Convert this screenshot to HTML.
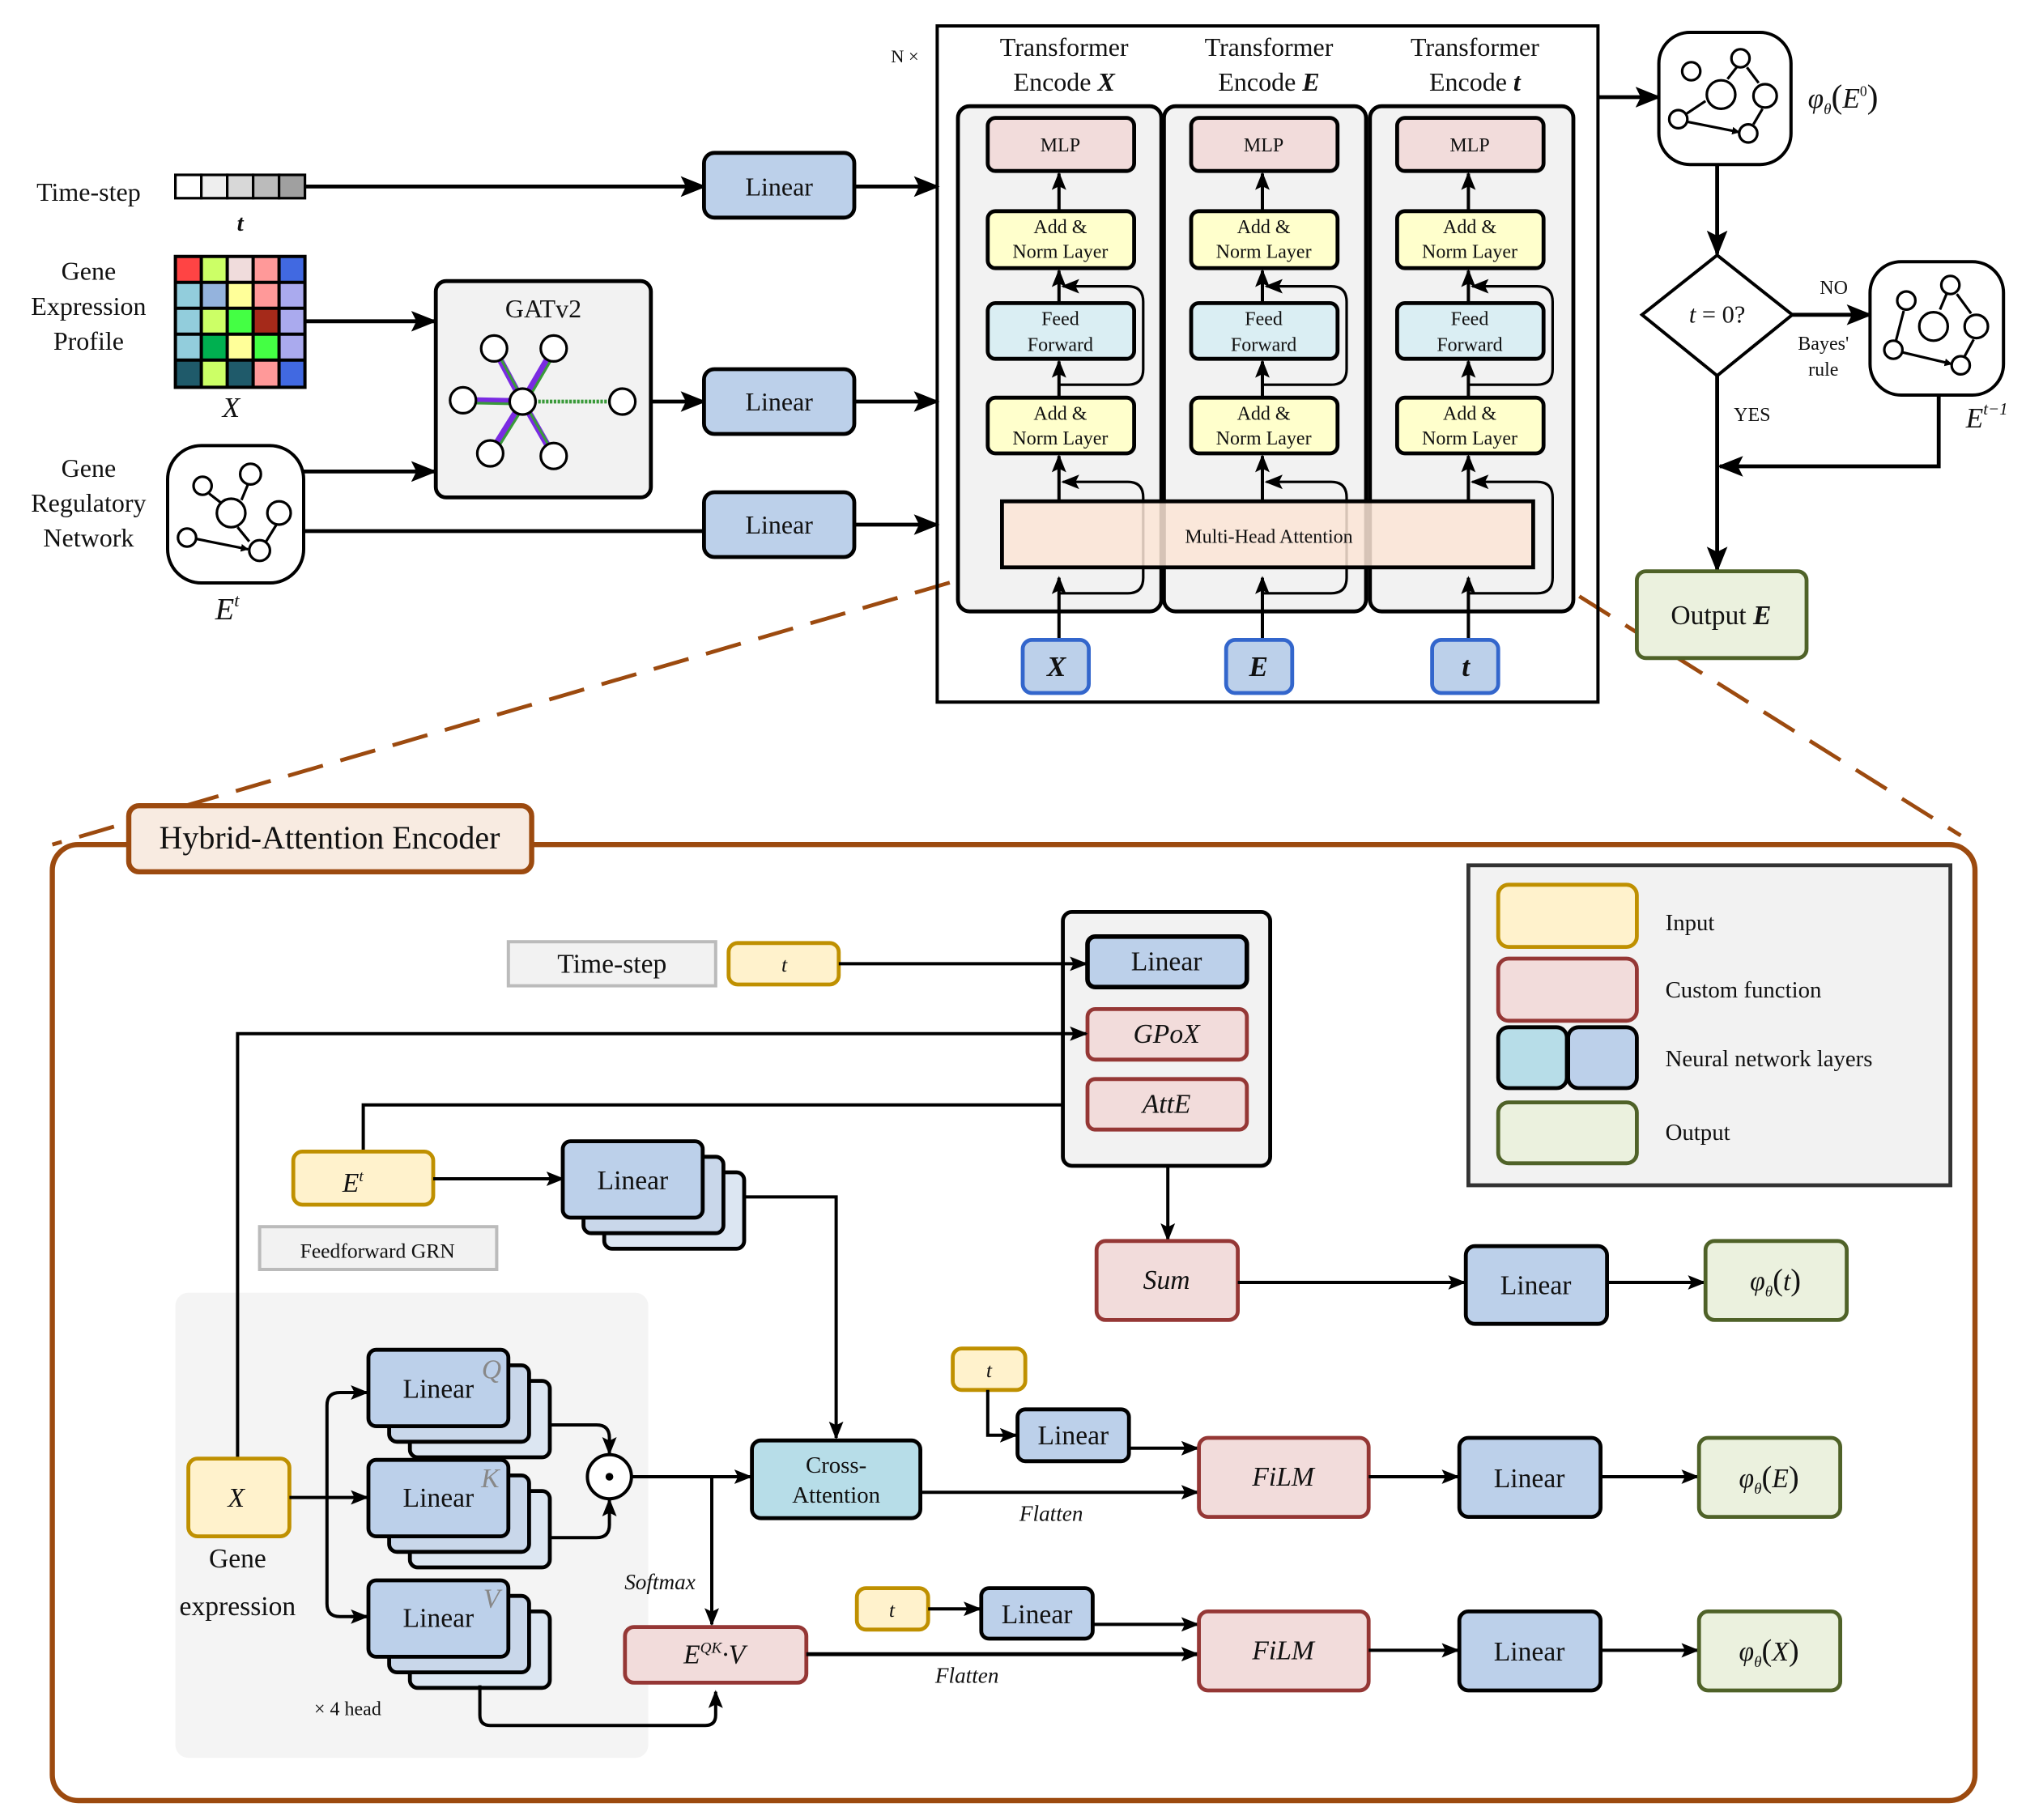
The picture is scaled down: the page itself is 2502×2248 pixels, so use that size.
<!DOCTYPE html>
<html><head><meta charset="utf-8"><style>
html,body{margin:0;padding:0;background:#fff}
svg{display:block}
text{font-family:"Liberation Serif",serif;fill:#111}
</style></head><body>
<svg width="2502" height="2248" viewBox="0 0 1563 1405" xmlns="http://www.w3.org/2000/svg">
<defs>
<marker id="a" viewBox="0 0 10 10" refX="9" refY="5" markerWidth="6" markerHeight="6" orient="auto" markerUnits="userSpaceOnUse"><path d="M0,0 L10,5 L0,10 z" fill="#000"/></marker>
<marker id="A" viewBox="0 0 10 10" refX="9" refY="5" markerWidth="20" markerHeight="20" orient="auto" markerUnits="userSpaceOnUse"><path d="M0,1 L10,5 L0,9 L2,5 z" fill="#000"/></marker>
<marker id="m" viewBox="0 0 10 10" refX="9" refY="5" markerWidth="14" markerHeight="14" orient="auto" markerUnits="userSpaceOnUse"><path d="M0,1 L10,5 L0,9 L2,5 z" fill="#000"/></marker>
</defs>
<g fill="none" stroke="#000" stroke-width="3">
<path d="M773,438 L40,652 M1183,438 L1513,645" stroke="#9c4a0f" stroke-width="3" stroke-dasharray="28,14"/>
<rect x="135" y="135" width="20" height="18" fill="#fff" stroke-width="2"/><rect x="155" y="135" width="20" height="18" fill="#eee" stroke-width="2"/><rect x="175" y="135" width="20" height="18" fill="#d8d8d8" stroke-width="2"/><rect x="195" y="135" width="20" height="18" fill="#bbb" stroke-width="2"/><rect x="215" y="135" width="20" height="18" fill="#a0a0a0" stroke-width="2"/>
<path d="M235,144 H543" marker-end="url(#A)"/>
<rect x="543" y="118" width="116" height="50" rx="8" fill="#bcd0ea"/>
<path d="M659,144 H723" marker-end="url(#A)"/>
<g stroke-width="0">
<rect x="135" y="198" width="20" height="20" fill="#ff4444"/><rect x="155" y="198" width="20" height="20" fill="#ccff66"/><rect x="175" y="198" width="20" height="20" fill="#f0dcdc"/><rect x="195" y="198" width="20" height="20" fill="#ff9999"/><rect x="215" y="198" width="20" height="20" fill="#4169e1"/>
<rect x="135" y="218" width="20" height="20" fill="#92cddc"/><rect x="155" y="218" width="20" height="20" fill="#94b3dd"/><rect x="175" y="218" width="20" height="20" fill="#ffff99"/><rect x="195" y="218" width="20" height="20" fill="#ff9999"/><rect x="215" y="218" width="20" height="20" fill="#aaaaee"/>
<rect x="135" y="238" width="20" height="20" fill="#92cddc"/><rect x="155" y="238" width="20" height="20" fill="#ccff66"/><rect x="175" y="238" width="20" height="20" fill="#44ff44"/><rect x="195" y="238" width="20" height="20" fill="#a52a1a"/><rect x="215" y="238" width="20" height="20" fill="#aaaaee"/>
<rect x="135" y="258" width="20" height="20" fill="#92cddc"/><rect x="155" y="258" width="20" height="20" fill="#00b050"/><rect x="175" y="258" width="20" height="20" fill="#ffff99"/><rect x="195" y="258" width="20" height="20" fill="#44ff44"/><rect x="215" y="258" width="20" height="20" fill="#aaaaee"/>
<rect x="135" y="278" width="20" height="21" fill="#1f5a6a"/><rect x="155" y="278" width="20" height="21" fill="#ccff66"/><rect x="175" y="278" width="20" height="21" fill="#1f5a6a"/><rect x="195" y="278" width="20" height="21" fill="#ff9999"/><rect x="215" y="278" width="20" height="21" fill="#4169e1"/>
</g>
<path d="M135,198 H235 V299 H135 Z M135,218 H235 M135,238 H235 M135,258 H235 M135,278 H235 M155,198 V299 M175,198 V299 M195,198 V299 M215,198 V299" stroke-width="2.5"/>
<path d="M235,248 H335" marker-end="url(#A)"/>
<rect x="336" y="217" width="166" height="167" rx="8" fill="#f2f2f2"/>
<g stroke-width="3">
<path d="M403,310 L381,269 M403,310 L427,269 M403,310 L357,309 M403,310 L378,350 M403,310 L427,352" stroke="#7a2be2" stroke-width="5"/>
<path d="M403,310 L381,269 M403,310 L427,269 M403,310 L357,309 M403,310 L378,350 M403,310 L427,352" stroke="#3a9a3a" stroke-width="2" transform="translate(2,2)"/>
<path d="M403,310 H480" stroke="#3a9a3a" stroke-width="3" stroke-dasharray="2,1"/>
</g>
<g fill="#fff" stroke-width="2">
<circle cx="381" cy="269" r="10"/><circle cx="427" cy="269" r="10"/><circle cx="357" cy="309" r="10"/><circle cx="403" cy="310" r="10"/><circle cx="480" cy="310" r="10"/><circle cx="378" cy="350" r="10"/><circle cx="427" cy="352" r="10"/>
</g>
<path d="M502,310 H543" marker-end="url(#A)"/>
<rect x="543" y="285" width="116" height="50" rx="8" fill="#bcd0ea"/>
<path d="M659,310 H723" marker-end="url(#A)"/>
<rect x="129" y="344" width="105" height="106" rx="26" fill="#fff" stroke-width="2.5"/>
<g stroke-width="2"><circle cx="156" cy="375" r="7" fill="#fff"/><circle cx="193" cy="366" r="8" fill="#fff"/><circle cx="178" cy="396" r="11" fill="#fff"/><circle cx="215" cy="396" r="9" fill="#fff"/><circle cx="144" cy="415" r="7" fill="#fff"/><circle cx="200" cy="425" r="8" fill="#fff"/>
<path d="M161,381 L170,388 M191,374 L186,386 M183,407 L192,418 M213,405 L205,418 M151,416 L191,424" marker-end="url(#a)"/></g>
<path d="M234,364 H335" marker-end="url(#A)"/>
<path d="M234,410 H543"/>
<rect x="543" y="380" width="116" height="50" rx="8" fill="#bcd0ea"/>
<path d="M659,405 H723" marker-end="url(#A)"/>
<rect x="723" y="20" width="510" height="522" stroke-width="2.5"/>
<rect x="739" y="82" width="157" height="390" rx="9" fill="#f2f2f2"/>
<rect x="898" y="82" width="156" height="390" rx="9" fill="#f2f2f2"/>
<rect x="1057" y="82" width="157" height="390" rx="9" fill="#f2f2f2"/>
<g id="col">
<rect x="762" y="91" width="113" height="41" rx="6" fill="#f2dcdb"/>
<rect x="762" y="163" width="113" height="44" rx="6" fill="#ffffcc"/>
<rect x="762" y="234" width="113" height="43" rx="6" fill="#daeef3"/>
<rect x="762" y="307" width="113" height="43" rx="6" fill="#ffffcc"/>
<path d="M817,163 V134" stroke-width="2.5" marker-end="url(#m)"/>
<path d="M817,234 V209" stroke-width="2.5" marker-end="url(#m)"/>
<path d="M817,307 V279" stroke-width="2.5" marker-end="url(#m)"/>
<path d="M817,387 V352" stroke-width="2.5" marker-end="url(#m)"/>
<path d="M817,494 V446" stroke-width="2.5" marker-end="url(#m)"/>
<path d="M817,297 H870 Q882,297 882,285 V233 Q882,221 870,221 H820" stroke-width="2" marker-end="url(#m)"/>
<path d="M817,458 H870 Q882,458 882,446 V384 Q882,372 870,372 H820" stroke-width="2" marker-end="url(#m)"/>
<rect x="789" y="494" width="51" height="41" rx="7" fill="#bcd0ea" stroke="#3366cc"/>
</g>
<use href="#col" x="157"/>
<use href="#col" x="316"/>
<rect x="773" y="387" width="410" height="51" fill="#fbe5d6" fill-opacity="0.85"/>
<path d="M1233,75 H1280" marker-end="url(#A)"/>
<rect x="1280" y="25" width="102" height="102" rx="24" fill="#fff" stroke-width="2.5"/>
<g stroke-width="2" fill="#fff"><circle cx="1305" cy="55" r="7"/><circle cx="1343" cy="45" r="7"/><circle cx="1328" cy="73" r="11"/><circle cx="1362" cy="74" r="9"/><circle cx="1295" cy="92" r="7"/><circle cx="1349" cy="103" r="7"/>
<path d="M1340,52 L1333,61 M1348,52 L1357,64 M1360,84 L1353,96 M1301,88 L1316,78 M1302,94 L1342,102" marker-end="url(#a)"/></g>
<path d="M1325,127 V196" marker-end="url(#A)"/>
<path d="M1325,197 L1383,243 L1325,290 L1267,243 Z" fill="#fff" stroke-width="2.5"/>
<path d="M1383,243 H1443" marker-end="url(#A)"/>
<rect x="1443" y="202" width="103" height="103" rx="24" fill="#fff" stroke-width="2.5"/>
<g stroke-width="2" fill="#fff"><circle cx="1471" cy="232" r="7"/><circle cx="1505" cy="220" r="7"/><circle cx="1492" cy="252" r="11"/><circle cx="1525" cy="252" r="9"/><circle cx="1461" cy="270" r="7"/><circle cx="1513" cy="282" r="7"/>
<path d="M1463,263 L1469,240 M1502,227 L1497,239 M1510,227 L1521,242 M1523,262 L1516,275 M1468,272 L1506,281" marker-end="url(#a)"/></g>
<path d="M1496,305 V360 H1327" marker-end="url(#A)"/>
<path d="M1325,290 V440" marker-end="url(#A)"/>
<rect x="1263" y="441" width="131" height="67" rx="7" fill="#ebf1de" stroke="#4f6228"/>
<rect x="40" y="652" width="1484" height="738" rx="20" stroke="#9c4a0f" stroke-width="4"/>
<rect x="99" y="622" width="311" height="51" rx="8" fill="#f8ebe1" stroke="#9c4a0f" stroke-width="4"/>
<rect x="1133" y="668" width="372" height="247" fill="#f2f2f2" stroke="#333"/>
<rect x="1156" y="683" width="107" height="48" rx="8" fill="#fff2cc" stroke="#bf9000"/>
<rect x="1156" y="740" width="107" height="48" rx="8" fill="#f2dcdb" stroke="#953735"/>
<rect x="1156" y="793" width="53" height="47" rx="8" fill="#b7dde8"/>
<rect x="1210" y="793" width="53" height="47" rx="8" fill="#bcd0ea"/>
<rect x="1156" y="851" width="107" height="47" rx="8" fill="#ebf1de" stroke="#4f6228"/>
<rect x="135" y="998" width="365" height="359" rx="10" fill="#f4f4f4" stroke="none"/>
<rect x="392" y="727" width="160" height="34" fill="#f2f2f2" stroke="#bbb" stroke-width="2.5"/>
<rect x="562" y="728" width="85" height="32" rx="7" fill="#fff2cc" stroke="#bf9000"/>
<rect x="820" y="704" width="160" height="196" rx="7" fill="#f2f2f2"/>
<path d="M647,744 H838" stroke-width="2.5" marker-end="url(#m)"/>
<rect x="839" y="723" width="123" height="39" rx="6" fill="#bcd0ea" stroke-width="3.5"/>
<rect x="839" y="779" width="123" height="39" rx="6" fill="#f2dcdb" stroke="#953735"/>
<rect x="839" y="833" width="123" height="39" rx="6" fill="#f2dcdb" stroke="#953735"/>
<path d="M183,1126 V798 H838" stroke-width="2.5" marker-end="url(#m)"/>
<path d="M280,889 V853 H820" stroke-width="2.5"/>
<rect x="226" y="889" width="108" height="41" rx="7" fill="#fff2cc" stroke="#bf9000"/>
<path d="M334,910 H434" stroke-width="2.5" marker-end="url(#m)"/>
<rect x="466" y="905" width="108" height="59" rx="6" fill="#dce6f2"/>
<rect x="450" y="893" width="108" height="59" rx="6" fill="#c9d7ea"/>
<rect x="434" y="881" width="108" height="59" rx="6" fill="#bcd0ea"/>
<path d="M575,924 H645 V1110" stroke-width="2.5" marker-end="url(#m)"/>
<rect x="200" y="947" width="183" height="33" fill="#f2f2f2" stroke="#bbb" stroke-width="2.5"/>
<rect x="145" y="1126" width="78" height="60" rx="7" fill="#fff2cc" stroke="#bf9000"/>
<path d="M223,1156 H283" stroke-width="2.5" marker-end="url(#m)"/>
<path d="M283,1075 H262 Q252,1075 252,1085 V1238 Q252,1248 262,1248 H283" stroke-width="2.5"/>
<path d="M270,1075 H283" stroke-width="2.5" marker-end="url(#m)"/><path d="M270,1248 H283" stroke-width="2.5" marker-end="url(#m)"/>
<g id="stk">
<rect x="316" y="1066" width="108" height="59" rx="6" fill="#dce6f2"/>
<rect x="300" y="1054" width="108" height="59" rx="6" fill="#c9d7ea"/>
<rect x="284" y="1042" width="108" height="59" rx="6" fill="#bcd0ea"/>
</g>
<use href="#stk" y="85"/>
<use href="#stk" y="178"/>
<path d="M425,1100 H460 Q470,1100 470,1110 V1122" stroke-width="2.5" marker-end="url(#m)"/>
<path d="M425,1187 H460 Q470,1187 470,1177 V1158" stroke-width="2.5" marker-end="url(#m)"/>
<circle cx="470" cy="1140" r="17" fill="#fff" stroke-width="2.5"/>
<circle cx="470" cy="1140" r="3" fill="#000" stroke="none"/>
<path d="M487,1140 H579" stroke-width="2.5" marker-end="url(#m)"/>
<path d="M549,1140 V1254" stroke-width="2.5" marker-end="url(#m)"/>
<path d="M370,1301 V1324 Q370,1332 378,1332 H544 Q552,1332 552,1324 V1306" stroke-width="2.5" marker-end="url(#m)"/>
<rect x="580" y="1112" width="130" height="60" rx="7" fill="#b7dde8"/>
<rect x="482" y="1256" width="140" height="43" rx="7" fill="#f2dcdb" stroke="#953735"/>
<path d="M901,900 V957" stroke-width="2.5" marker-end="url(#m)"/>
<rect x="846" y="958" width="109" height="61" rx="7" fill="#f2dcdb" stroke="#953735"/>
<path d="M955,990 H1130" stroke-width="2.5" marker-end="url(#m)"/>
<rect x="1131" y="962" width="109" height="60" rx="7" fill="#bcd0ea"/>
<path d="M1240,990 H1315" stroke-width="2.5" marker-end="url(#m)"/>
<rect x="1316" y="958" width="109" height="61" rx="7" fill="#ebf1de" stroke="#4f6228"/>
<rect x="735" y="1041" width="56" height="32" rx="7" fill="#fff2cc" stroke="#bf9000"/>
<path d="M762,1073 V1108 H784" stroke-width="2.5" marker-end="url(#m)"/>
<rect x="785" y="1088" width="86" height="40" rx="6" fill="#bcd0ea"/>
<path d="M871,1118 H924" stroke-width="2.5" marker-end="url(#m)"/>
<path d="M710,1152 H924" stroke-width="2.5" marker-end="url(#m)"/>
<rect x="925" y="1110" width="131" height="61" rx="7" fill="#f2dcdb" stroke="#953735"/>
<path d="M1056,1140 H1125" stroke-width="2.5" marker-end="url(#m)"/>
<rect x="1126" y="1110" width="109" height="61" rx="7" fill="#bcd0ea"/>
<path d="M1235,1140 H1310" stroke-width="2.5" marker-end="url(#m)"/>
<rect x="1311" y="1110" width="109" height="61" rx="7" fill="#ebf1de" stroke="#4f6228"/>
<rect x="661" y="1226" width="55" height="32" rx="7" fill="#fff2cc" stroke="#bf9000"/>
<path d="M716,1242 H756" stroke-width="2.5" marker-end="url(#m)"/>
<rect x="757" y="1226" width="86" height="39" rx="6" fill="#bcd0ea"/>
<path d="M843,1254 H924" stroke-width="2.5" marker-end="url(#m)"/>
<path d="M622,1277 H924" stroke-width="3" marker-end="url(#m)"/>
<rect x="925" y="1244" width="131" height="61" rx="7" fill="#f2dcdb" stroke="#953735"/>
<path d="M1056,1274 H1125" stroke-width="2.5" marker-end="url(#m)"/>
<rect x="1126" y="1244" width="109" height="61" rx="7" fill="#bcd0ea"/>
<path d="M1235,1274 H1310" stroke-width="2.5" marker-end="url(#m)"/>
<rect x="1311" y="1244" width="109" height="61" rx="7" fill="#ebf1de" stroke="#4f6228"/>
</g>
<g font-size="20" text-anchor="middle">
<text x="68" y="155">Time-step</text>
<text x="185" y="178" font-style="italic" font-weight="bold" font-size="18">t</text>
<text x="68" y="216">Gene</text><text x="68" y="243">Expression</text><text x="68" y="270">Profile</text>
<text x="178" y="322" font-style="italic" font-size="22">X</text>
<text x="68" y="368">Gene</text><text x="68" y="395">Regulatory</text><text x="68" y="422">Network</text>
<text x="175" y="478" font-style="italic" font-size="24">E<tspan dy="-10" font-size="14">t</tspan></text>
<text x="419" y="245">GATv2</text>
<text x="601" y="151">Linear</text><text x="601" y="317">Linear</text><text x="601" y="412">Linear</text>
<text x="698" y="48" font-size="14">N ×</text>
<text x="821" y="43">Transformer</text><text x="821" y="70">Encode <tspan font-style="italic" font-weight="bold">X</tspan></text>
<text x="979" y="43">Transformer</text><text x="979" y="70">Encode <tspan font-style="italic" font-weight="bold">E</tspan></text>
<text x="1138" y="43">Transformer</text><text x="1138" y="70">Encode <tspan font-style="italic" font-weight="bold">t</tspan></text>
</g>
<g font-size="15" text-anchor="middle">
<text x="818" y="117">MLP</text><text x="975" y="117">MLP</text><text x="1134" y="117">MLP</text>
<text x="818" y="180">Add &amp;</text><text x="818" y="199">Norm Layer</text>
<text x="975" y="180">Add &amp;</text><text x="975" y="199">Norm Layer</text>
<text x="1134" y="180">Add &amp;</text><text x="1134" y="199">Norm Layer</text>
<text x="818" y="251">Feed</text><text x="818" y="271">Forward</text>
<text x="975" y="251">Feed</text><text x="975" y="271">Forward</text>
<text x="1134" y="251">Feed</text><text x="1134" y="271">Forward</text>
<text x="818" y="324">Add &amp;</text><text x="818" y="343">Norm Layer</text>
<text x="975" y="324">Add &amp;</text><text x="975" y="343">Norm Layer</text>
<text x="1134" y="324">Add &amp;</text><text x="1134" y="343">Norm Layer</text>
<text x="979" y="419">Multi-Head Attention</text>
</g>
<g font-size="22" font-style="italic" font-weight="bold" text-anchor="middle">
<text x="815" y="522">X</text><text x="971" y="522">E</text><text x="1131" y="522">t</text>
</g>
<text x="1395" y="83" font-size="22" font-style="italic">φ<tspan font-size="12" dy="5">θ</tspan><tspan dy="-5" font-style="normal" font-size="26">(</tspan>E<tspan font-size="11" dy="-9" font-style="normal">0</tspan><tspan dy="9" font-style="normal" font-size="26">)</tspan></text>
<text x="1325" y="249" font-size="19" text-anchor="middle"><tspan font-style="italic">t</tspan> = 0?</text>
<text x="1415" y="227" font-size="15" text-anchor="middle">NO</text>
<text x="1407" y="270" font-size="15" text-anchor="middle">Bayes'</text><text x="1407" y="290" font-size="15" text-anchor="middle">rule</text>
<text x="1352" y="325" font-size="15" text-anchor="middle">YES</text>
<text x="1517" y="330" font-size="22" font-style="italic">E<tspan font-size="13" dy="-10">t−1</tspan></text>
<text x="1328" y="482" font-size="21" text-anchor="middle">Output <tspan font-style="italic" font-weight="bold">E</tspan></text>
<text x="254" y="655" font-size="25" text-anchor="middle">Hybrid-Attention Encoder</text>
<g font-size="18"><text x="1285" y="718">Input</text><text x="1285" y="770">Custom function</text><text x="1285" y="823">Neural network layers</text><text x="1285" y="880">Output</text></g>
<g text-anchor="middle" font-size="21">
<text x="472" y="751">Time-step</text>
<text x="605" y="750" font-size="16" font-style="italic">t</text>
<text x="900" y="749">Linear</text>
<text x="900" y="805" font-style="italic">GPoX</text>
<text x="900" y="859" font-style="italic">AttE</text>
<text x="272" y="920" font-style="italic">E<tspan font-size="12" dy="-8">t</tspan></text>
<text x="488" y="918">Linear</text>
<text x="291" y="971" font-size="16">Feedforward GRN</text>
<text x="182" y="1163" font-style="italic">X</text>
<text x="183" y="1210">Gene</text><text x="183" y="1247">expression</text>
<text x="338" y="1079">Linear</text><text x="338" y="1163">Linear</text><text x="338" y="1256">Linear</text>
<text x="379" y="1064" font-style="italic" style="fill:#888">Q</text><text x="378" y="1148" font-style="italic" style="fill:#888">K</text><text x="379" y="1241" font-style="italic" style="fill:#888">V</text>
<text x="268" y="1324" font-size="15">× 4 head</text>
<text x="509" y="1227" font-size="17" font-style="italic">Softmax</text>
<text x="645" y="1137" font-size="18">Cross-</text><text x="645" y="1160" font-size="18">Attention</text>
<text x="551" y="1284" font-style="italic">E<tspan font-size="12" dy="-8">QK</tspan><tspan dy="8">·V</tspan></text>
<text x="900" y="995" font-style="italic">Sum</text>
<text x="1185" y="999">Linear</text>
<text x="1370" y="996" font-style="italic">φ<tspan font-size="12" dy="5">θ</tspan><tspan dy="-5" font-style="normal" font-size="24">(</tspan>t<tspan font-style="normal" font-size="24">)</tspan></text>
<text x="763" y="1063" font-size="16" font-style="italic">t</text>
<text x="828" y="1115">Linear</text>
<text x="811" y="1174" font-size="17" font-style="italic">Flatten</text>
<text x="990" y="1147" font-style="italic">FiLM</text>
<text x="1180" y="1148">Linear</text>
<text x="1365" y="1148" font-style="italic">φ<tspan font-size="12" dy="5">θ</tspan><tspan dy="-5" font-style="normal" font-size="24">(</tspan>E<tspan font-style="normal" font-size="24">)</tspan></text>
<text x="688" y="1248" font-size="16" font-style="italic">t</text>
<text x="800" y="1253">Linear</text>
<text x="746" y="1299" font-size="17" font-style="italic">Flatten</text>
<text x="990" y="1281" font-style="italic">FiLM</text>
<text x="1180" y="1282">Linear</text>
<text x="1365" y="1282" font-style="italic">φ<tspan font-size="12" dy="5">θ</tspan><tspan dy="-5" font-style="normal" font-size="24">(</tspan>X<tspan font-style="normal" font-size="24">)</tspan></text>
</g>
</svg>
</body></html>
